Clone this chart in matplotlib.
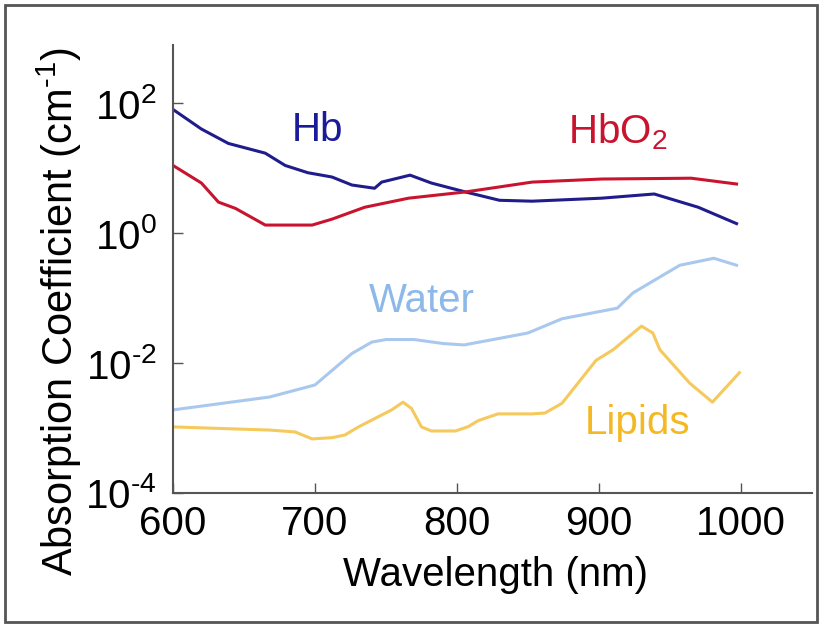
import matplotlib
matplotlib.use("Agg")
import matplotlib.pyplot as plt
from matplotlib.patches import Rectangle

plt.rcParams['font.family'] = ['Liberation Sans Narrow', 'Liberation Sans', 'DejaVu Sans']
plt.rcParams['mathtext.fontset'] = 'custom'
plt.rcParams['mathtext.rm'] = 'Liberation Sans'
plt.rcParams['mathtext.default'] = 'regular'

# absorption spectra (wavelength nm, coefficient cm^-1)
hb_nm = [600, 620, 639, 665, 679, 695, 712, 726, 742, 747, 767, 782, 806, 830, 853, 902, 939, 970, 997]
hb_val = [80, 40, 24, 17, 11, 8.5, 7.3, 5.5, 4.9, 6.1, 7.8, 5.9, 4.3, 3.2, 3.1, 3.45, 4.0, 2.5, 1.4]

hbo2_nm = [600, 620, 632, 644, 665, 698, 712, 735, 766, 806, 853, 902, 965, 997]
hbo2_val = [11, 5.9, 3.0, 2.4, 1.33, 1.33, 1.64, 2.5, 3.45, 4.3, 6.1, 6.8, 7.0, 5.7]

water_nm = [600, 668, 700, 726, 740, 750, 770, 790, 805, 830, 850, 874, 913, 924, 957, 981, 997]
water_val = [0.0019, 0.003, 0.0046, 0.014, 0.021, 0.023, 0.023, 0.020, 0.019, 0.024, 0.029,
             0.048, 0.07, 0.12, 0.32, 0.41, 0.32]

lipid_nm = [600, 668, 686, 698, 712, 721, 731, 754, 762, 768, 775, 782, 799, 808, 815, 829,
            853, 862, 874, 898, 910, 930, 938, 943, 964, 980, 999]
lipid_val = [0.00104, 0.00093, 0.00087, 0.00068, 0.00071, 0.00078, 0.00105, 0.0019, 0.0025,
             0.002, 0.00104, 0.0009, 0.0009, 0.00105, 0.0013, 0.00165, 0.00165, 0.0017, 0.0024,
             0.011, 0.016, 0.037, 0.029, 0.016, 0.0049, 0.0025, 0.0071]

x_ticks = [600, 700, 800, 900, 1000]
y_ticks = [1e-4, 1e-2, 1e0, 1e2]
y_tick_labels = [r'$10^{\text{-}4}$', r'$10^{\text{-}2}$', '$10^{0}$', '$10^{2}$']

fig = plt.figure(figsize=(8.2, 6.28), dpi=100)
ax = fig.add_axes([0.211, 0.215, 0.779, 0.713])

ax.plot(hb_nm, hb_val, color='#201c8c', lw=2.2)
ax.plot(hbo2_nm, hbo2_val, color='#c8142f', lw=2.2)
ax.plot(water_nm, water_val, color='#a9c8ee', lw=2.2)
ax.plot(lipid_nm, lipid_val, color='#f5c95c', lw=2.2)

ax.text(702, 39, 'Hb', color='#1a1a9a', fontsize=29, ha='center', va='center')
ax.text(913, 36, 'HbO$_2$', color='#c8142f', fontsize=29, ha='center', va='center')
ax.text(775, 0.09, 'Water', color='#8db9ea', fontsize=29, ha='center', va='center')
ax.text(927, 0.0012, 'Lipids', color='#f4b822', fontsize=29, ha='center', va='center')

ax.set_yscale('log')
ax.set_xlim(600, 1050)
ax.set_ylim(1e-4, 780)
ax.set_xticks(x_ticks)
ax.set_yticks(y_ticks)
ax.set_yticklabels(y_tick_labels)
ax.minorticks_off()
ax.tick_params(direction='in', length=7, width=1, color='#555555', labelsize=29)
ax.tick_params(axis='x', pad=9)
ax.tick_params(axis='y', pad=12)

for side in ['top', 'right']:
    ax.spines[side].set_visible(False)
for side in ['left', 'bottom']:
    ax.spines[side].set_color('#555555')
    ax.spines[side].set_linewidth(1.5)

ax.set_xlabel('Wavelength (nm)', fontsize=29)
ax.set_ylabel('Absorption Coefficient (cm$^{\\text{-}1}$)', fontsize=30)
ax.xaxis.set_label_coords(0.505, -0.14)
ax.yaxis.set_label_coords(-0.14, 0.405)

# outer frame round the picture
fig.patches.append(Rectangle((5 / 820, 1 - 622 / 628), 812 / 820, 617 / 628,
                             transform=fig.transFigure, fill=False,
                             edgecolor='#555555', lw=2))

fig.savefig('out.png', dpi=100)
